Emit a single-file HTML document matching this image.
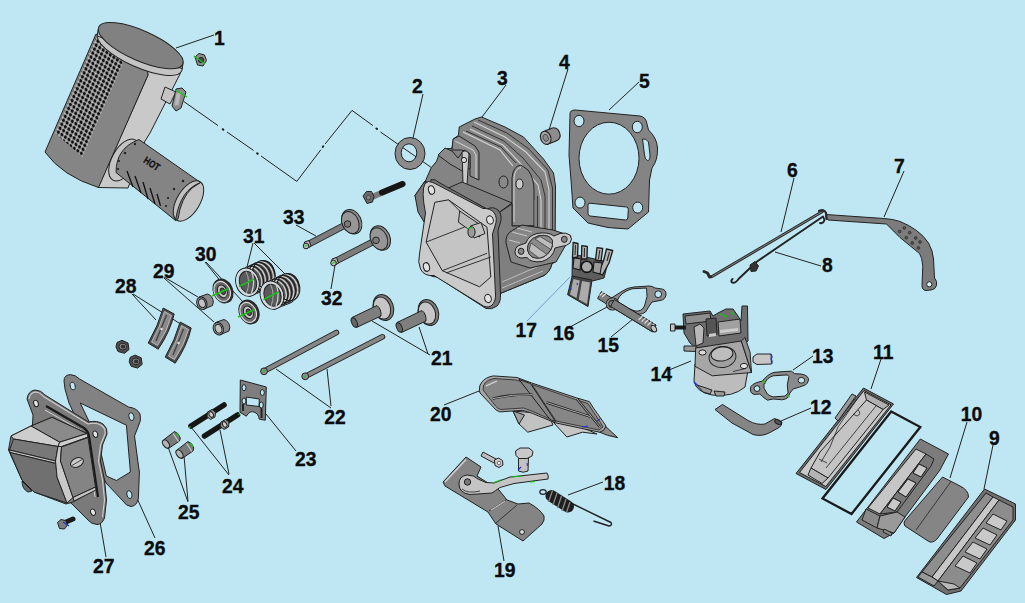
<!DOCTYPE html>
<html><head><meta charset="utf-8"><title>Cylinder head assembly</title>
<style>
html,body{margin:0;padding:0;background:#bee7f3;}
body{width:1025px;height:603px;overflow:hidden;position:relative;font-family:"Liberation Sans",sans-serif;}
svg{position:absolute;left:0;top:0;display:block}
.lb{font:bold 21px "Liberation Sans",sans-serif;fill:#0c0c0c;stroke:#0c0c0c;stroke-width:.35px;}
.ld{stroke:#222;stroke-width:1;fill:none}
.o{stroke:#222;stroke-width:1;stroke-linejoin:round}
</style></head><body>
<svg width="1025" height="603" viewBox="0 0 1025 603">
<rect width="1025" height="603" fill="#bee7f3"/>
<!--LEADERS-->
<g class="ld" id="leaders">
<path d="M214 35L176 48M423 94L413 138M506 85L482 117M568 69L549 130M639 82L609 110M794 178L781 232M904 171L884 217M821 266L775 252M813 356L793 370M881 359L871 389M811 408L781 421M967 422L950 478M993 445L984 489M669 370L691 361M611 337L633 319M570 327L607 307M430 355L372 321M428 354L419 327M444 405L479 391M331 408L276 369M331 406L327 369M331 289L335 265M296 225L316 236M253 243L247 267M254 243L285 274M205 262L222 283M206 262L244 303M164 277L198 297M164 278L214 322M132 294L156 320M133 294L179 323M296 451L266 414M229 475L191 427M229 474L220 430M188 502L167 444M188 501L184 456M155 538L136 496M106 557L100 522M603 482L568 495M504 561L498 526"/>
<path d="M527 321L570 277" stroke="#7a9ac8"/>
<path d="M183.800 101.500L218 125.600M227 132L253.600 150.500M261 156L296.800 181.400L320.900 149.700M325.200 143.900L352 110.400L372.900 125.600M380.500 132L431.300 167.500"/>
<path d="M222.700 129.200L223.300 129.600M257.100 153.300L257.700 153.700M322.800 147L323.200 146.400M376.400 128.500L377 128.900" stroke-width="2" stroke-linecap="round"/>
</g>
<!--PARTS-->
<g id="parts">
<!-- 01_muffler -->
<g id="muffler">
<defs>
<pattern id="perf" width="4.300" height="4.300" patternUnits="userSpaceOnUse" patternTransform="translate(97 38) matrix(0.82 0.57 -0.40 0.92 0 0)">
<rect width="4.300" height="4.300" fill="#acacac"/><circle cx="2.150" cy="2.150" r="1.650" fill="#111"/><circle cx="0.300" cy="0.300" r=".600" fill="#d8d8d8"/>
</pattern>
<clipPath id="perfclip"><path d="M96.500 36.500L125.500 57L82.500 157L55 133Z"/></clipPath>
</defs>
<!-- light side face -->
<path class="o" fill="#c9c9c9" d="M146 68L182 66L180 74L150 133L145 141L128 188L98 187.500L148 75Z"/>
<!-- dark front face -->
<path class="o" fill="#858585" d="M96 34L120 48L147 64L148 75L98.500 187.500Q62 176 45 152Z"/>
<rect x="40" y="20" width="120" height="170" fill="url(#perf)" clip-path="url(#perfclip)"/>
<!-- stub pipe + flange -->
<path class="o" fill="#c4c4c4" d="M165 87L176 92L170 104L161 99Z"/>
<path class="o" fill="#8c8c8c" stroke-width="1.600" d="M176 89L182 88L186 92L181 108L176 111L172 106Z"/><path d="M176.500 93L181 92L178.500 105L174.500 105.500Z" fill="#b8b8b8"/>
<path d="M175 90L187 97" stroke="#18c018" stroke-width="1.4" fill="none"/>
<!-- rim -->
<ellipse class="o" cx="139.700" cy="52.300" rx="46" ry="15" transform="rotate(23.8 139.700 52.300)" fill="#c4c4c4"/>
<path fill="#c4c4c4" stroke="#222" stroke-width="1" d="M98.200 29.300L183.200 62.100L182.200 68.700L97.200 35.900Z"/>
<ellipse class="o" cx="140.7" cy="45.7" rx="46" ry="15" transform="rotate(23.8 140.7 45.7)" fill="#818181"/>
<!-- collar -->
<ellipse class="o" cx="124" cy="160" rx="12" ry="23" transform="rotate(29 124 160)" fill="#c4c4c4"/>
<!-- exhaust cylinder -->
<path class="o" fill="#848484" d="M139 139.5L200.5 182.5Q183 196 175.5 220.5L116 172.5Q116 148 139 139.5Z"/>
<ellipse class="o" cx="188.5" cy="201" rx="11.5" ry="22.5" transform="rotate(31 188.5 201)" fill="#c2c2c2"/>
<path class="o" fill="#848484" d="M200.5 182.5Q180 190 175.5 220.5L178 219Q181 198 192 188Z"/>
<g stroke="#111" stroke-width="1.3" fill="none"><path d="M127 171L133 187M135 176L141 193M143 182L148 199M150 188L155 204M157 194L160.500 206"/></g>
<g fill="#222"><circle cx="135" cy="144" r="1.2"/><circle cx="125" cy="153" r="1.2"/><circle cx="119" cy="161" r="1.1"/><circle cx="118" cy="169" r="1.1"/><circle cx="183" cy="181" r="1.3"/><circle cx="174" cy="189" r="1.2"/><circle cx="168" cy="198" r="1.1"/><circle cx="166" cy="206" r="1.1"/></g>
<text transform="translate(142.800 162) rotate(33)" font-family="Liberation Sans, sans-serif" font-weight="bold" font-size="10" fill="#111" stroke="#111" stroke-width=".3" textLength="17" lengthAdjust="spacingAndGlyphs">HOT</text>
<!-- nut -->
<g><path class="o" fill="#8e8e8e" stroke-width="1.300" d="M195 57L199 53.500L204.500 55L206.500 60.500L203 66L197.500 65Z"/><circle cx="201" cy="60" r="2.600" fill="#4a4a4a" stroke="#1a1a1a" stroke-width=".9"/><path d="M194 56L205 64" stroke="#18c018" stroke-width="1.3"/></g>
</g>
<!-- 03_head -->
<g id="head">
<!-- washer 2 -->
<path class="o" fill="#8b8b8b" fill-rule="evenodd" d="M395 153.5a15 16 0 1 0 30 0a15 16 0 1 0 -30 0ZM401.200 152.800a7.800 9 0 1 0 15.600 0a7.800 9 0 1 0 -15.600 0Z"/>
<!-- dowel 4 -->
<g transform="translate(549.500 137) scale(1.130) translate(-549.500 -137) rotate(-22 548 137)"><rect class="o" x="543" y="131" width="16" height="12" rx="5" fill="#8d8d8d"/><ellipse class="o" cx="546" cy="137" rx="4.5" ry="6" fill="#a5a5a5"/><ellipse cx="546" cy="137" rx="2.3" ry="3.2" fill="#8a8a8a" stroke="#333" stroke-width=".6"/></g>
<!-- main silhouette -->
<path class="o" fill="#848484" d="M459.2 127L475 119L481.5 117L505 127L523.5 137L543.5 159L553.5 173L555.500 186L555 262L552 263.500Q550 272 544 275.500L499 294L497 232L495 212L425 181L415 195.5L419 209L425.900 179.800L431.200 167.800L436.600 161.200L439.200 153.900L445.200 153.200L446.500 148.600L451.800 148.600L453.800 138.600L458.500 135.300Z"/>
<path class="o" fill="#7a7a7a" d="M425 181L415 195.5L418 212L424 222L428 205Z"/>
<!-- fin light lines -->
<g fill="none" stroke="#d4d4d4" stroke-width="1.1">
<path d="M474 122L505 137L526 152L545 172L549 190L549 262"/>
<path d="M470 129L503 145L520 163L538 185L541 200L541 262"/>
<path d="M463 132L500 150L513 166"/>
<path d="M534 200L534 262"/>
</g>
<g fill="none" stroke="#2a2a2a" stroke-width=".9">
<path d="M478 120L507 133L529 149L548 170L552.5 188L552.5 262"/>
<path d="M472 126L504 141L523 158L541 180L545 196L545 262"/>
<path d="M466 131L501 147L516 163"/>
<path d="M537.5 196L537.5 262M530 200L530 262"/>
</g>
<!-- tower boss -->
<path class="o" fill="#868686" d="M512 226L512 178Q513 166 521 165L528 170Q534 178 534 190L534 226Z"/>
<path fill="none" stroke="#d4d4d4" stroke-width="1" d="M514 222L514 178Q515 168 521 167.5"/>
<ellipse class="o" cx="519.5" cy="184" rx="3.6" ry="5" fill="#c9c9c9"/>
<ellipse class="o" cx="503.5" cy="182" rx="4.5" ry="6" fill="#8a8a8a"/>
<!-- rocker ears -->
<path class="o" fill="#8a8a8a" d="M453 139L459 136L475 146L479 152L479 180L470 176L470 156L462 150L452 150Z"/>
<path fill="none" stroke="#d4d4d4" stroke-width="1" d="M455 141L473 150L476 155L476 178"/>
<path class="o" fill="#8a8a8a" d="M438 155L445 148L452 151L458 158L464 150L470 154L470 168L464 172L457 168L450 164Z"/>
<path class="o" fill="#c9c9c9" d="M462 152Q467 149 469 154L467 185L463 184Z"/>
<circle class="o" cx="464" cy="160" r="2.6" fill="#dedede"/>
<!-- top face of box below -->
<path class="o" fill="#808080" d="M446 189L462 182L512 203L497 214Z"/>
<!-- right side body -->
<path class="o" fill="#7f7f7f" d="M497 214L512 204L512 226L534 226L534 262L555 262L552 263.500Q550 272 544 275.500L499 294Z"/><path d="M502 282L546 263M502 288L543 271" stroke="#c4c4c4" stroke-width=".9" fill="none"/>
<!-- intake port -->
<path class="o" fill="#868686" d="M506 243Q505 234 513 230L522 225L553 230L571 236L556 262L530 268L511 262Z"/>
<path d="M512 232L527 236M517 228L532 232M509 240L520 243" stroke="#c8c8c8" stroke-width="1" fill="none"/>
<path class="o" fill="#c8c8c8" fill-rule="evenodd" d="M515 251.500Q515 247 519 245.500L526 243Q528 236 537 233.500Q548 231.500 554 236L560 233.500Q566 232 570 235Q573 239 570 243Q567 246 561 246.500L555 248Q553 258 542 261.500Q531 263 527 257.500L521 258Q515 257 515 251.500Z
M518.200 251.300a2.900 3.100 0 1 0 5.800 0a2.900 3.100 0 1 0 -5.800 0Z
M561.400 239.300a2.900 3.100 0 1 0 5.800 0a2.900 3.100 0 1 0 -5.800 0Z
M527.500 250Q527 240 538 236Q549 233.500 552.500 240.500Q554 251 542.500 257.500Q530 260.500 527.500 250Z"/>
<path fill="#8a8a8a" stroke="#222" stroke-width=".8" d="M527.500 250Q527 240 538 236Q549 233.500 552.500 240.500Q554 251 542.500 257.500Q530 260.500 527.500 250Z"/>
<path fill="#bcbcbc" stroke="#222" stroke-width=".6" d="M531 243L547 254.500Q543 257.500 539 258L529 250.500ZM535 239L551 249.500L552.500 244L540 236.500Z"/>
<!-- front flange -->
<path class="o" fill="#767676" d="M431 179.500Q436 179 439 182.500L487 209Q493 206 498 210Q503 215 500 224L498 230L500.500 294Q501 302 497 306Q492 310 486 308.500L437 277Q428 277 425 270Z"/>
<path class="o" fill="#cacaca" d="M425 183.500Q428 180 433 182.500L483 208.500Q490 208 494 212.500Q498 218 495 226L492.500 234L495.500 294Q496 302 491 306Q486 308.500 481 304.500L434 275.500Q424 276.500 420.500 269Q417.500 262 419.500 254L425.500 213Q421 191 425 183.500Z"/>
<!-- inner opening -->
<path class="o" fill="#c4c4c4" d="M434.800 202.300L448.500 199.800L487 227.200L490.800 277L479.600 286.800L442.300 270.700L426.100 242.100Z"/>
<path class="o" fill="#bababa" d="M459.700 211L482 226L479.600 237L458.400 222.200Z"/>
<path fill="none" stroke="#222" stroke-width=".9" d="M426.100 242.100L464.700 227M442.300 270.700L487 253.300M446 273L490.800 257M448.500 199.800L459.700 211"/>
<path class="o" fill="#c0c0c0" d="M470.500 226L481 222.500L485 233.500L474 238Z"/>
<ellipse class="o" cx="471.500" cy="232" rx="3.600" ry="5.400" fill="#9a9a9a"/>
<path d="M467 229L473 227" stroke="#18c018" stroke-width="1.200"/>
<!-- bolt holes -->
<g class="o" fill="#e2e2e2"><ellipse cx="431.5" cy="190" rx="3" ry="4.3" transform="rotate(-15 431.5 190)"/><ellipse cx="490" cy="220" rx="3.3" ry="4.2" transform="rotate(-15 490 220)"/><ellipse cx="426.5" cy="267" rx="3" ry="4.4" transform="rotate(-15 426.5 267)"/><ellipse cx="488" cy="298.5" rx="3.3" ry="4.2" transform="rotate(-15 488 298.5)"/></g>
</g>
<!-- 05_gasket -->
<g id="gasket5">
<path class="o" stroke-width="1.400" fill="#848484" fill-rule="evenodd" d="M570 114Q570 110 575 110L640 116Q646 117 647 124L648.5 130Q657 138 657.5 148Q658 160 652 168L649.5 180L648.5 212L628 229Q608 229 588 223L573 208L571 180L569 155Z
M579 158.2a30 36 0 1 0 60 0a30 36 0 1 0 -60 0Z
M574 121a5 5.7 0 1 0 10 0a5 5.7 0 1 0 -10 0Z
M632.3 127a5 5.7 0 1 0 10 0a5 5.7 0 1 0 -10 0Z
M575 202.6a5 5.5 0 1 0 10 0a5 5.5 0 1 0 -10 0Z
M632.7 207.6a5 5.5 0 1 0 10 0a5 5.5 0 1 0 -10 0Z
M642.5 139Q646 138 648.5 142L650 155Q650 161 647.5 160.5Q645 160 644.5 155Z
M588 205Q588 203 590 203.2L626.5 207Q628.5 207.4 628.3 209.5L627.8 218Q627.6 220.2 625.5 220L590 216Q588 215.8 588 213.5Z"/>
</g>
<!-- 06_linkage -->
<g id="linkage">
<!-- arm 7 -->
<path class="o" fill="#7c7c7c" d="M826 214.5L884 218.5Q893 219 900 221.5Q909 225 916.5 230.5Q924 236 928.5 243Q933 251 933.5 259L934.5 278Q937.5 281 936.5 285.5Q935.5 289.5 931 290L925 290.5Q921.5 289 922 285.5L922.8 266Q922 257 919.5 253.5L900 237.5L886.5 224L828 220Q825 217 826 214.5Z"/>
<circle class="o" cx="929.3" cy="284.3" r="2.6" fill="#e4f3f8"/>
<g fill="#555" stroke="#222" stroke-width=".6"><circle cx="904.3" cy="228" r="1.4"/><circle cx="899.7" cy="231.5" r="1.4"/><circle cx="909.7" cy="232.7" r="1.4"/><circle cx="906.3" cy="237.7" r="1.4"/><circle cx="915.7" cy="238" r="1.4"/><circle cx="912.3" cy="243" r="1.4"/><circle cx="920" cy="242" r="1.4"/><circle cx="918.4" cy="248" r="1.4"/></g>
<!-- rod 6 -->
<path d="M822.5 211.5L712 276.5L709.5 277L707.5 273L704 271.5" fill="none" stroke="#2a2a2a" stroke-width="2.900" stroke-linecap="round" stroke-linejoin="round"/>
<path d="M822.5 211.5L712 276.5" fill="none" stroke="#999" stroke-width=".8"/>
<path d="M819 211Q824 208.500 826 213L826.5 219" fill="none" stroke="#2a2a2a" stroke-width="2.2" stroke-linecap="round"/>
<!-- spring 8 -->
<path d="M820 223Q823 224 824.500 220L823 216.500L757 261.500L739 278.500Q735 284 732 282.500Q730.500 281 732.500 279" fill="none" stroke="#222" stroke-width="1.900" stroke-linecap="round" stroke-linejoin="round"/>
<path class="o" fill="#333" d="M750 265L755 261.500L758.500 266L756 271L751 271.500Z"/>
</g>
<!-- 09_airfilter -->
<g id="airfilter">
<!-- case 11 -->
<path class="o" fill="#6c6c6c" stroke="#111" stroke-width="1.600" d="M863.500 388L893.500 404L826 489.500L796 473.500Z"/>
<path class="o" fill="#c9c9c9" d="M864 390.500L891 404.800L825.800 486.500L799.500 472.500Z"/>
<path class="o" fill="#b0b0b0" d="M864.500 392L889 405L883 409.500L866.500 400Z"/>
<path class="o" fill="#c4c4c4" d="M866.500 400L883 409.500L828 478L811 468L820 452Z"/>
<path class="o" fill="#b4b4b4" d="M811 468L828 478L822 483.500L808 475Z"/>
<path d="M857 399L838 427L830 447L821 462M876 406L826 468M819 459L827 463" fill="none" stroke="#222" stroke-width=".8"/>
<path d="M858 410Q862 414 857 416L853 414" fill="none" stroke="#222" stroke-width=".8"/>
<path class="o" fill="#9a9a9a" d="M852 394L856 396L838 421L835 418Z"/>
<!-- frame gasket -->
<path d="M891.200 411.500L920.300 427L851.500 514L822.500 498.500Z" fill="none" stroke="#1a1a1a" stroke-width="2.300" stroke-linejoin="miter"/>
<!-- holder -->
<path class="o" fill="#7c7c7c" d="M920.300 439L948.500 454L942 466L940 470L905 517L894 533L884 538.500L856.500 522Z"/>
<path class="o" fill="#c6c6c6" d="M916 449L926 454L880 514L868 508Z"/>
<path class="o" fill="#787878" d="M926 454L934 459L931 466L897 512L880 514Z"/>
<path class="o" fill="#8a8a8a" d="M919 464L927 468L921 477L913 473ZM908 479L916 483L906 497L898 492ZM893 498L901 502L895 511L887 507Z" />
<path class="o" fill="#c9c9c9" d="M919 464L927 468L921 477L913 473ZM908 479L916 483L906 497L898 492ZM893 498L901 502L895 511L887 507Z" transform="translate(0 0)"/>
<path class="o" fill="#8a8a8a" d="M866 509L880 516L877 528L862 520Z"/>
<path class="o" fill="#999" d="M880 516L897 512L905 517L894 533L877 528Z"/>
<path class="o" fill="#8a8a8a" d="M884 529L892 533L891 536L883 532Z"/>
<!-- foam 10 -->
<path class="o" fill="#858585" d="M942.500 477L960 486Q968.500 490 968.500 497L937 539Q932 544 928 541L905 526Q903 523 905 520.500Z"/>
<path d="M951 481.500L916 530" stroke="#222" stroke-width=".8" fill="none"/>
<!-- cover 9 -->
<path class="o" fill="#707070" stroke-width="1.300" d="M984.500 489L1015.500 504L1015.500 520L961 591L946.500 594.500L916.500 577.500Z"/>
<path class="o" fill="#8e8e8e" d="M986 493L993 497L932 577L922 572Z"/>
<path class="o" fill="#c8c8c8" d="M993 497L999 500L938 581L932 577Z"/>
<path class="o" fill="#8c8c8c" d="M999 500L1013 507L1013 520L960 588L948 590L938 581Z"/>
<path class="o" fill="#c9c9c9" d="M993 514L1007 521L1001 530L986 523ZM983 528L997 535L990 545L975 538ZM973 542L987 549L980 559L965 552ZM963 556L977 563L970 573L955 566Z"/>
<path class="o" fill="#b8b8b8" d="M938 581L948 590L960 588L954 584Z"/>
<path class="o" fill="#9a9a9a" d="M922 572L932 577L938 581L934 586L918 577Z"/>
</g>
<!-- 13_gasket_hose -->
<g id="p12_13">
<path class="o" fill="#8a8a8a" fill-rule="evenodd" d="M750.400 389Q750.500 386 752.400 384.900Q755 383 758.200 382.200L762 381.100L767.400 375.800Q770.500 373.200 774 372.400L783.100 371.600L791.400 371.200L794.700 373.700L801.400 374.100Q805 374.500 807.200 376.600Q809 378.500 808.400 380.700Q807.500 383.500 805.500 384.900L799.700 387L793.100 389L789.800 393.200L788.100 397.300Q786 399.300 782.300 399.800L773.200 399L767.400 400.200L762.400 396.500L759.900 394L754.100 394.400Q751.500 393.500 750.800 391.900Z
M764 384L767.400 379.100Q770 376.800 773.200 375.800L787.300 374.900L788.900 376.600L787.300 384.900L788.100 393.200L784.800 396.100L773.200 396.900Q769.500 396 767.400 394L764 388.200Z
M754.100 388.600a2.900 2.900 0 1 0 5.800 0a2.900 2.900 0 1 0 -5.800 0Z
M798.100 380.300a3.300 2.900 0 1 0 6.600 0a3.300 2.900 0 1 0 -6.600 0Z"/>
<path d="M762.500 380.500L766 383.500M787 395L789.500 397" stroke="#18c018" stroke-width="1.300"/>
<path class="o" fill="#858585" d="M715 409.500L722.500 404.500L748 420.500Q757 425.500 765 424L774.500 418.500L782 422Q782 426 779 427.500L770 432.500Q762 437 753 434.500L732 423Z"/>
<ellipse class="o" cx="778" cy="422" rx="2" ry="3.600" transform="rotate(-60 778 422)" fill="#555"/>
</g>
<!-- 14_carb -->
<g id="carb">
<!-- bowl -->
<path class="o" fill="#bcbcbc" d="M695 364L694 381Q696 392 712 395Q733 397.500 745 387L748 370Z"/>
<path class="o" fill="#9a9a9a" d="M697 385L703 392L710 394L712 390ZM714 391L716 396L724 396L725 392Z"/>
<path d="M694 382L698 386" stroke="#2030d0" stroke-width="1.500"/>
<!-- right pipe -->
<path class="o" fill="#c6c6c6" d="M753 357L757 354L771 354L771.500 364L757 364.500L753 362Z"/>
<path d="M771 354Q773 357 771 359Q773 361.500 771.500 364" stroke="#2030d0" stroke-width="1.200" fill="none"/>
<!-- top block -->
<path class="o" fill="#6e6e6e" d="M683 314L710 311L713 316L718 313L726 309L733 309L738 316L741 321L742 306L747.500 306L748 341L742 345L696 348L690 343L684 333Z"/>
<path class="o" fill="#8e8e8e" d="M685 316L710 313L711 321L686 324Z"/>
<path class="o" fill="#a0a0a0" d="M718 322L740 319L741 333L719 336Z"/>
<path class="o" fill="#555" d="M706 319L716 318L717 334L707 336Z"/>
<path class="o" fill="#b8b8b8" d="M694 327L700 324L704 328L703 343L696 346Z"/>
<path d="M720 314L727 317M731 311L734 316" stroke="#18c018" stroke-width="1.200"/>
<path fill="#ccc" d="M720 330L738 328L738 331L720 333ZM709 334L716 333L716 336L709 337Z"/>
<!-- screw left -->
<path class="o" fill="#c6c6c6" d="M670.500 324L675 324L675 331L670.500 331Z"/>
<path d="M675 327.500L686 327.500" stroke="#1a1a1a" stroke-width="4"/>
<!-- tab -->
<path class="o" fill="#9a9a9a" d="M684 346L696 346L696 351.500L684 351Z"/>
<!-- flange -->
<path class="o" fill="#a6a6a6" d="M695.700 348L741.300 341L751.500 372.500L712.300 375.800L695 366.300Z"/>
<path class="o" fill="#8e8e8e" d="M741.300 341L745 337.500L750 352L751.500 372.500Z"/>
<ellipse class="o" cx="722.500" cy="357" rx="13.500" ry="10.500" fill="#a0a0a0" transform="rotate(-8 722.500 357)"/>
<ellipse class="o" cx="722" cy="354" rx="11" ry="7" fill="#bdbdbd" transform="rotate(-8 722 354)"/>
<ellipse class="o" cx="702.500" cy="352.500" rx="3.600" ry="2.600" fill="#d8d8d8"/>
<ellipse class="o" cx="744" cy="366" rx="3.600" ry="2.600" fill="#e6e6e6"/>
<path d="M733 371.500L746 368.500" stroke="#222" stroke-width=".8"/>
</g>
<!-- 15_stud_gasket -->
<g id="p15_16_17">
<!-- gasket 16 -->
<path class="o" fill="#8c8c8c" fill-rule="evenodd" d="M607.500 303Q608 299 613 297L621 292Q627 287.500 634 287L649 286Q652 286 655 288L662 289Q666.500 290 666 295Q665 300 660 300.500L652 302Q649 306 645.500 312Q640 316 632 313L618 309Q609 310 607.500 303Z
M617.500 300Q621 292 632 288.800L646.500 288Q648.500 296 644.500 306Q641.500 312 635 311L622 306Q617 304.500 617.500 300Z
M654.800 294.200a3.400 3.400 0 1 0 6.800 0a3.400 3.400 0 1 0 -6.800 0Z"/>
<!-- stud 15 -->
<path class="o" fill="#7d7d7d" d="M601.300 291.600L656 325L652.300 331.800L597.600 298.500Z"/>
<ellipse cx="612.600" cy="304" rx="5.200" ry="4.800" fill="none" stroke="#222" stroke-width="3.400"/><ellipse cx="612.600" cy="304" rx="5.200" ry="4.800" fill="none" stroke="#8c8c8c" stroke-width="1.800"/>
<path class="o" fill="#7d7d7d" d="M614.300 299.500L656 325L652.300 331.800L610.600 306.400Z"/>
<path d="M599.500 295.500L603.500 292M602 297L606 293.500M638.500 320L642.500 316M641.500 321.800L645.500 317.800M644.500 323.500L648.500 319.500M647.500 325.500L651.500 321.500M650.500 327.300L654.500 323.300" stroke="#ddd" stroke-width="1.1" fill="none"/>
<ellipse class="o" cx="653.800" cy="328.600" rx="2.400" ry="3.600" transform="rotate(-30 653.800 328.600)" fill="#c4c4c4"/>
<!-- bracket 17 -->
<path class="o" fill="#5e5e5e" stroke-width="1.500" d="M572.500 254L608 262L604 278L592.500 281L572 276.500Z"/>
<g fill="#b2b2b2" stroke="#1a1a1a" stroke-width="1.300" stroke-linejoin="round">
<path d="M573.200 242.500L578 243.500L577.500 257L572.500 258Z"/>
<path d="M581.800 245.600L587.300 246.500L587 259L581.500 259Z"/>
<path d="M597 247.600L602.700 248.500L601 261L595.500 260Z"/>
<path d="M606.500 249L612.700 250.500L609 263L602.500 275L598 273L603.500 261Z"/>
</g>
<path d="M575.500 245L575 255M584.500 248L584.300 257M599.800 250L598.500 259M609.500 252L607 261" stroke="#2a2a2a" stroke-width="1.100" fill="none"/>
<path fill="#9c9c9c" stroke="#1a1a1a" stroke-width="1.100" d="M574 258L581 259L580 270L573 268ZM594 262L602 263L600 274L593 272Z"/>
<path class="o" fill="#444" stroke-width="1.500" d="M572.200 276L592 280L588 306.600L567.600 294.700Z"/>
<path fill="#ababab" d="M573.500 279L579.800 280.500L576.500 298L570 294.500ZM582 281L590 282.500L587 304L578.800 299.500Z"/>
<circle cx="586.800" cy="266.800" r="5.600" fill="#a9a9a9" stroke="#111" stroke-width="1.600"/>
<path d="M570 288L571.500 289.500M577 283L577.500 285" stroke="#2030d0" stroke-width="1.100"/>
</g>
<!-- 19_bracket -->
<g id="bracket19">
<path class="o" fill="#848484" d="M443 482L466 457L481 467L477 476L499 490L507 500L518 504L529 503Q540 509 544 516Q545 520 542 524L523 541L496 524L488 512L445 486Z"/>
<path d="M445 482L466 459.500" stroke="#cfcfcf" stroke-width="1.600" fill="none"/>
<path d="M489 511L506 500M496 523L517 505" stroke="#222" stroke-width=".8" fill="none"/>
<path d="M491 510L505 501" stroke="#cfcfcf" stroke-width="1" fill="none"/>
<circle class="o" cx="522" cy="532" r="2.400" fill="#e2e2e2"/>
<!-- lever -->
<path class="o" fill="#c4c4c4" d="M459 484Q459 476 467 475Q474 475 478 479Q486 484 494 483L510 477L547 473Q549 476 548 479L514 483.500L500 487.500Q495 491 492 493L470 494.500Q459 493 459 484Z"/>
<path d="M462 489Q468 494 480 491" fill="none" stroke="#222" stroke-width=".8"/>
<circle class="o" cx="467.500" cy="482" r="3.200" fill="#777"/>
<path d="M494 482.500L502 479.500M512 477L522 476M530 482L535 481.500" stroke="#18c018" stroke-width="1.200"/>
<!-- small bolt -->
<path class="o" fill="#bdbdbd" d="M483 452L497 459.500L495 463.500L481 456Z"/>
<path class="o" fill="#d0d0d0" d="M494.500 460L498.500 458L502.500 460.500L503 465L499 467.500L495 465.500Z"/>
<circle cx="499" cy="463" r="1.800" fill="#eee" stroke="#222" stroke-width=".6"/>
<!-- big bolt -->
<path class="o" fill="#c2c2c2" d="M518.500 457L528.500 457L528 471Q523 473.500 518.500 471Z"/>
<path class="o" fill="#c9c9c9" d="M515.500 451L520 448L529 448L533 451.500L532 456L527 458.500L519 458.500L516 455.500Z"/>
<path d="M518 470L521 467M527 463L527.500 466" stroke="#2030d0" stroke-width="1.100"/>
<!-- spring 18 -->
<ellipse cx="543" cy="492" rx="3.200" ry="2.400" fill="none" stroke="#222" stroke-width="1.200"/>
<path d="M551.500 496L568 506.500" stroke="#1e1e1e" stroke-width="12" stroke-linecap="round"/>
<path d="M552.500 490.500L548.500 502M557 493L553 505M561.500 496L557.500 508M566 499L562 511M570 502L566.500 512.500" stroke="#8a8a8a" stroke-width="1.300" fill="none"/>
<path d="M572 503.500L611 522.500Q612.500 525.500 609 526L593.500 521" fill="none" stroke="#222" stroke-width="1.400" stroke-linejoin="round"/>
</g>
<!-- 20_shroud -->
<g id="shroud">
<path class="o" fill="#c2c2c2" d="M513 411L519 424L527.800 432.200L553 425L548 414Z"/>
<path class="o" fill="#a2a2a2" d="M513 411L519 424L524.500 415Z"/>
<path class="o" fill="#c6c6c6" d="M553 422L566.900 437L582.500 432.200L597 434L575 424Z"/>
<path class="o" fill="#8c8c8c" d="M590 428L603 424L617.700 437.700L607.500 435.300L599.700 432.200Z"/>
<path class="o" fill="#a6a6a6" stroke-width="1.400" d="M479.400 390.800Q479 385 481.700 382.200Q486 377 493.400 375.900L516.900 377.500L531.700 383L576.300 397.800L589.500 401.700L593.400 408L602.800 421.300L606 426L604 430L599.700 432.200L555.200 422.800L532.500 413.400L523 410.300L499.700 411.900Q495 410 493.400 407.200L480 393Z"/>
<path fill="#868686" stroke="#222" stroke-width=".8" d="M483 390Q483 385 485 383Q488 379.500 494 378.500L516 380L524 382.500L540 404L551 419.500L534 412L523.500 408L500.500 409.500Q497 408 495.500 406Z"/>
<path fill="#868686" stroke="#222" stroke-width=".8" d="M532 384.500L575.500 399.500L588 403.500L591.500 409L600.500 422.500L603 427L599 430L556 421Z"/>
<path fill="#868686" stroke="#1e1e1e" stroke-width="1" d="M519 379.500L530.500 383.500L555.500 421.500L550 419.500Z"/>
<g fill="none" stroke="#1e1e1e" stroke-width="2.400">
<path d="M492.700 398.600Q512 394 532.500 394.700"/>
<path d="M546.600 402.500L590.300 416.600"/>
<path d="M577 399L600 427"/>
</g>
<g fill="none" stroke="#bdbdbd" stroke-width=".9">
<path d="M492.700 398.600Q512 394 532.500 394.700"/>
<path d="M546.600 402.500L590.300 416.600"/>
<path d="M577 399L600 427"/>
</g>
<path d="M486 386L497 381" stroke="#ddd" stroke-width="1.200" fill="none"/>
<path d="M597 421L600 419M582 427L588 426" stroke="#2030d0" stroke-width="1.100"/>
</g>
<!-- 23_rocker -->
<g id="rocker">
<!-- plate 23 -->
<path class="o" fill="#7e7e7e" fill-rule="evenodd" d="M240.300 380L266.300 387L265.300 420.200L259.300 419.200Q258 413 254.300 412.200Q250 410 246.300 416.200L240 412.200Z
M246.300 397L259.300 399L259 406.500L246.300 405Z
M242 387.700a2 3 0 1 0 4 0a2 3 0 1 0 -4 0Z
M260.300 392.500a2 3 0 1 0 4 0a2 3 0 1 0 -4 0Z
M242 401a2 3 0 1 0 4 0a2 3 0 1 0 -4 0Z
M259.300 405a2 3 0 1 0 4 0a2 3 0 1 0 -4 0Z"/>
<path d="M243 404L243 411M261.500 408L261.500 418" stroke="#222" stroke-width="2"/>
<!-- studs 24 -->
<g id="stud">
<path d="M191 426L224 405" stroke="#161616" stroke-width="5.600" stroke-linecap="round"/>
<path class="o" fill="#9a9a9a" d="M207.500 412L212 409.500L215.500 412L215 417L210.500 419.500L207 416.500Z"/>
<ellipse class="o" cx="211.200" cy="414.500" rx="2" ry="3" transform="rotate(-30 211.200 414.500)" fill="#d0d0d0"/>
</g>
<g transform="translate(13.500 10)">
<path d="M191 426L224 405" stroke="#161616" stroke-width="5.600" stroke-linecap="round"/>
<path class="o" fill="#9a9a9a" d="M207.500 412L212 409.500L215.500 412L215 417L210.500 419.500L207 416.500Z"/>
<ellipse class="o" cx="211.200" cy="414.500" rx="2" ry="3" transform="rotate(-30 211.200 414.500)" fill="#d0d0d0"/>
</g>
<path d="M189 428L190.500 426.500M238.500 415L240 413" stroke="#18c018" stroke-width="1.200"/>
<!-- dowels 25 -->
<g id="dow">
<path class="o" fill="#7a7a7a" d="M163.500 440L174.500 431.500Q179 433 180.300 438L179.500 441L168.500 448.500Q163 447 163.500 440Z"/>
<ellipse class="o" cx="166" cy="444" rx="2.800" ry="4.600" transform="rotate(-35 166 444)" fill="#b5b5b5"/>
<path d="M173 433.500L178.500 441.500" stroke="#ccc" stroke-width="1.100"/>
<path d="M176.500 433L179.500 436.500" stroke="#18c018" stroke-width="1.200"/>
</g>
<g transform="translate(13.500 10)">
<path class="o" fill="#7a7a7a" d="M163.500 440L174.500 431.500Q179 433 180.300 438L179.500 441L168.500 448.500Q163 447 163.500 440Z"/>
<ellipse class="o" cx="166" cy="444" rx="2.800" ry="4.600" transform="rotate(-35 166 444)" fill="#b5b5b5"/>
<path d="M173 433.500L178.500 441.500" stroke="#ccc" stroke-width="1.100"/>
<path d="M176.500 433L179.500 436.500" stroke="#18c018" stroke-width="1.200"/>
</g>
</g>
<!-- 26_cover -->
<g id="cover">
<!-- gasket 26 -->
<path class="o" fill="#828282" fill-rule="evenodd" d="M64 381Q64 375 70.200 374.600Q76 375 79.500 379L128.500 407Q137 408 140 414Q142 420 138 427L134.500 436L138.500 466L139.400 472L138.400 498Q137 506 131 506.500Q126 506 123 501L106 483L100 470L69 403L65 389Z
M80.200 403L126.400 425.200L130.400 472L116.400 480.500L106.300 476L98 440Z
M70.300 386a2.400 3.200 -20 1 0 4.800 0a2.400 3.200 -20 1 0 -4.800 0Z
M129 416.600a2.400 3.200 -20 1 0 4.800 0a2.400 3.200 -20 1 0 -4.800 0Z
M127 494.600a2.400 3.200 -20 1 0 4.800 0a2.400 3.200 -20 1 0 -4.800 0Z"/>
<!-- cover flange -->
<path class="o" fill="#7a7a7a" d="M27 399Q28 391 35 390Q41 390 45 395L88.500 422Q97 420 103 424Q108 428 107 434L102.500 445L100.500 461L104.500 480L106.500 500L104.500 518Q102 524.500 97 524.500Q91 524 88 520L72 504L30 470L33 415Z"/>
<path fill="none" stroke="#cfcfcf" stroke-width="1.100" d="M29 399Q30 393 35 392Q40 392 43.500 396.500L88 424Q96 422 101.500 425.500Q106 429 105 434L100.500 445L98.500 461L102.500 480L104.500 500L102.500 517"/>
<path fill="none" stroke="#1a1a1a" stroke-width="2.200" d="M46 406L84 428Q88 431 89 436L98 497"/>
<path fill="none" stroke="#cfcfcf" stroke-width="1" d="M45 410L82 431Q85 433 86 438L95 497"/>
<g class="o" fill="#e6e6e6"><ellipse cx="36" cy="403.500" rx="2.300" ry="3.300" transform="rotate(-20 36 403.500)"/><ellipse cx="95.300" cy="434.200" rx="2.300" ry="3.300" transform="rotate(-20 95.300 434.200)"/><ellipse cx="93" cy="512.200" rx="2.300" ry="3.300" transform="rotate(-20 93 512.200)"/></g>
<!-- dome -->
<path class="o" fill="#7c7c7c" d="M11 436L31 426L52 417.300L87 433.500L89 446L96 489L73 502L66 504L34 492L22 480L8.500 450Z"/>
<path class="o" fill="#8a8a8a" d="M31 426L52 417.300L87 433.500L59.700 442.200Z"/>
<path class="o" fill="#cdcdcd" d="M11 436L31 426L59.700 442.200L58 446.500L13.500 439Z"/>
<path class="o" fill="#787878" d="M13.500 439L58 446.500L55.500 461L9.500 450Z"/>
<path class="o" fill="#c4c4c4" d="M9.500 450L55.500 461L56 463.500L10 452.500Z"/>
<path class="o" fill="#707070" d="M10 452.500L56 463.500L57 477L67 503L34 492L22 480Z"/>
<path class="o" fill="#cdcdcd" d="M59.700 442.200L87 433.500L88 437L61.500 446.500L58 446.500Z"/>
<path class="o" fill="#c9c9c9" d="M58 446.500L61.500 446.500L60.500 461L73 497.500L67 503L57 477L55.500 461Z"/>
<path class="o" fill="#848484" d="M61.500 447L88 437.500L95.500 487L73 497.500L60.500 461Z"/>
<path class="o" fill="#c4c4c4" d="M73 497.500L95.500 487L96 490L74 501Z"/>
<ellipse class="o" cx="77" cy="462.500" rx="6.800" ry="4.400" transform="rotate(-25 77 462.500)" fill="#c9c9c9"/>
<path d="M72 465.500L82 459.500" stroke="#222" stroke-width=".8"/>
<path class="o" fill="#6a6a6a" d="M22 481L32 491L28 492Q22 489 22 481Z"/>
<!-- small bolt -->
<path d="M66 522L73 519" stroke="#1c1c1c" stroke-width="5" stroke-linecap="round"/>
<path class="o" fill="#7e7e7e" d="M57.500 522.500L61 519.500L65.500 520.500L67.500 525L64.500 529L59.500 528.500Z"/>
<path d="M63 522L69 526" stroke="#2030d0" stroke-width="1.100"/>
</g>
<!-- 28_springs -->
<g id="springs">
<!-- springs 31 -->
<g id="spr">
<path class="o" fill="#555" d="M247.400 268.200L262 260.500Q273 260 274.500 273Q274 285 267 289.500L249 296.500Z"/>
<g fill="none" stroke="#d2d2d2" stroke-width="1.200">
<ellipse cx="262" cy="275" rx="11" ry="13.800" transform="rotate(-18 262 275)"/>
<ellipse cx="258" cy="276.800" rx="11" ry="13.800" transform="rotate(-18 258 276.800)"/>
<ellipse cx="254" cy="278.600" rx="11" ry="13.800" transform="rotate(-18 254 278.600)"/>
<ellipse cx="250.500" cy="280.400" rx="11" ry="13.800" transform="rotate(-18 250.500 280.400)"/>
</g>
<g fill="none" stroke="#1c1c1c" stroke-width="1.100">
<ellipse cx="264" cy="274.200" rx="11" ry="13.800" transform="rotate(-18 264 274.200)"/>
<ellipse cx="260" cy="276" rx="11" ry="13.800" transform="rotate(-18 260 276)"/>
<ellipse cx="256" cy="277.800" rx="11" ry="13.800" transform="rotate(-18 256 277.800)"/>
<ellipse cx="252.200" cy="279.600" rx="11" ry="13.800" transform="rotate(-18 252.200 279.600)"/>
</g>
<ellipse cx="247.400" cy="282.200" rx="11.500" ry="14.300" transform="rotate(-18 247.400 282.200)" fill="#bee7f3" stroke="#222" stroke-width="1"/>
<ellipse cx="247.400" cy="282.200" rx="10" ry="12.800" transform="rotate(-18 247.400 282.200)" fill="none" stroke="#d8d8d8" stroke-width="1.800"/>
<ellipse cx="248" cy="282.200" rx="8.400" ry="11.200" transform="rotate(-18 248 282.200)" fill="#5a5a5a" stroke="#222" stroke-width="1"/>
<path d="M251 270.500Q256 281 251.500 293" fill="none" stroke="#d2d2d2" stroke-width="1.200"/>
<path d="M246 271.500Q251 282 246.500 293" fill="none" stroke="#aaa" stroke-width="1"/>
<path d="M239 286.500L254 279" stroke="#18c018" stroke-width="1.400"/>
</g>
<g transform="translate(24.500 13)">
<path class="o" fill="#555" d="M247.400 268.200L262 260.500Q273 260 274.500 273Q274 285 267 289.500L249 296.500Z"/>
<g fill="none" stroke="#d2d2d2" stroke-width="1.200">
<ellipse cx="262" cy="275" rx="11" ry="13.800" transform="rotate(-18 262 275)"/>
<ellipse cx="258" cy="276.800" rx="11" ry="13.800" transform="rotate(-18 258 276.800)"/>
<ellipse cx="254" cy="278.600" rx="11" ry="13.800" transform="rotate(-18 254 278.600)"/>
<ellipse cx="250.500" cy="280.400" rx="11" ry="13.800" transform="rotate(-18 250.500 280.400)"/>
</g>
<g fill="none" stroke="#1c1c1c" stroke-width="1.100">
<ellipse cx="264" cy="274.200" rx="11" ry="13.800" transform="rotate(-18 264 274.200)"/>
<ellipse cx="260" cy="276" rx="11" ry="13.800" transform="rotate(-18 260 276)"/>
<ellipse cx="256" cy="277.800" rx="11" ry="13.800" transform="rotate(-18 256 277.800)"/>
<ellipse cx="252.200" cy="279.600" rx="11" ry="13.800" transform="rotate(-18 252.200 279.600)"/>
</g>
<ellipse cx="247.400" cy="282.200" rx="11.500" ry="14.300" transform="rotate(-18 247.400 282.200)" fill="#bee7f3" stroke="#222" stroke-width="1"/>
<ellipse cx="247.400" cy="282.200" rx="10" ry="12.800" transform="rotate(-18 247.400 282.200)" fill="none" stroke="#d8d8d8" stroke-width="1.800"/>
<ellipse cx="248" cy="282.200" rx="8.400" ry="11.200" transform="rotate(-18 248 282.200)" fill="#5a5a5a" stroke="#222" stroke-width="1"/>
<path d="M251 270.500Q256 281 251.500 293" fill="none" stroke="#d2d2d2" stroke-width="1.200"/>
<path d="M246 271.500Q251 282 246.500 293" fill="none" stroke="#aaa" stroke-width="1"/>
<path d="M239 286.500L254 279" stroke="#18c018" stroke-width="1.400"/>
</g>
<!-- retainers 30 -->
<g id="ret">
<ellipse class="o" cx="223" cy="291" rx="9.600" ry="12.300" transform="rotate(-25 223 291)" fill="#2e2e2e"/>
<ellipse cx="222.200" cy="291.400" rx="7.800" ry="10.400" transform="rotate(-25 222.200 291.400)" fill="#6a6a6a" stroke="#ddd" stroke-width="1.100"/>
<ellipse class="o" cx="222.400" cy="291.400" rx="4.600" ry="6.600" transform="rotate(-25 222.400 291.400)" fill="#c6c6c6"/>
<ellipse class="o" cx="222.800" cy="291.200" rx="2.200" ry="3.400" transform="rotate(-25 222.800 291.200)" fill="#555"/>
<path d="M212 296L228.500 288.500" stroke="#18c018" stroke-width="1.400"/>
</g>
<g transform="translate(26 21)">
<ellipse class="o" cx="223" cy="291" rx="9.600" ry="12.300" transform="rotate(-25 223 291)" fill="#2e2e2e"/>
<ellipse cx="222.200" cy="291.400" rx="7.800" ry="10.400" transform="rotate(-25 222.200 291.400)" fill="#6a6a6a" stroke="#ddd" stroke-width="1.100"/>
<ellipse class="o" cx="222.400" cy="291.400" rx="4.600" ry="6.600" transform="rotate(-25 222.400 291.400)" fill="#c6c6c6"/>
<ellipse class="o" cx="222.800" cy="291.200" rx="2.200" ry="3.400" transform="rotate(-25 222.800 291.200)" fill="#555"/>
<path d="M212 296L228.500 288.500" stroke="#18c018" stroke-width="1.400"/>
</g>
<!-- collets 29 -->
<g id="col">
<path class="o" fill="#8a8a8a" d="M199 297L207.500 294Q213 296 213.300 302L212.500 305.500L203.500 309.300Z"/>
<ellipse class="o" cx="201.800" cy="303.200" rx="5" ry="6.400" transform="rotate(-20 201.800 303.200)" fill="#9a9a9a"/>
<ellipse class="o" cx="202" cy="303.200" rx="3.300" ry="4.500" transform="rotate(-20 202 303.200)" fill="#c2c2c2"/>
</g>
<g transform="translate(16.500 25.500)">
<path class="o" fill="#8a8a8a" d="M199 297L207.500 294Q213 296 213.300 302L212.500 305.500L203.500 309.300Z"/>
<ellipse class="o" cx="201.800" cy="303.200" rx="5" ry="6.400" transform="rotate(-20 201.800 303.200)" fill="#9a9a9a"/>
<ellipse class="o" cx="202" cy="303.200" rx="3.300" ry="4.500" transform="rotate(-20 202 303.200)" fill="#c2c2c2"/>
</g>
<!-- plates 28 -->
<g id="plt">
<path class="o" fill="#4d4d4d" d="M163.200 308L174.200 314Q170 332 158.200 349.200L148.200 343.100Q158 326 163.200 308Z"/>
<path fill="#8a8a8a" stroke="#ccc" stroke-width=".8" d="M164.500 311.500L171.500 315.500Q167.500 331 157.500 345.500L151.500 342Q160 327 164.500 311.500Z"/>
<path d="M166.500 315L156 341" stroke="#444" stroke-width="1.400"/>
<circle cx="161.500" cy="329" r="1.300" fill="#ddd"/>
</g>
<g transform="translate(17 14)">
<path class="o" fill="#4d4d4d" d="M163.200 308L174.200 314Q170 332 158.200 349.200L148.200 343.100Q158 326 163.200 308Z"/>
<path fill="#8a8a8a" stroke="#ccc" stroke-width=".8" d="M164.500 311.500L171.500 315.500Q167.500 331 157.500 345.500L151.500 342Q160 327 164.500 311.500Z"/>
<path d="M166.500 315L156 341" stroke="#444" stroke-width="1.400"/>
<circle cx="161.500" cy="329" r="1.300" fill="#ddd"/>
</g>
<!-- nuts -->
<g id="nut2">
<path class="o" fill="#4e4e4e" stroke-width="1.300" d="M117 342.500L122 340.300L128 343L129 349.500L124.500 353.300L118 351.500L116 347Z"/>
<ellipse class="o" cx="122.800" cy="346.600" rx="3.800" ry="3.400" fill="#9a9a9a"/>
<ellipse cx="123" cy="346.600" rx="2.400" ry="2.200" fill="#333"/>
</g>
<g transform="translate(13.200 14.800)">
<path class="o" fill="#4e4e4e" stroke-width="1.300" d="M117 342.500L122 340.300L128 343L129 349.500L124.500 353.300L118 351.500L116 347Z"/>
<ellipse class="o" cx="122.800" cy="346.600" rx="3.800" ry="3.400" fill="#9a9a9a"/>
<ellipse cx="123" cy="346.600" rx="2.400" ry="2.200" fill="#333"/>
</g>
</g>
<!-- 33_valves -->
<g id="valves">
<!-- bolt -->
<path d="M372 197L402.500 184" stroke="#7a7a7a" stroke-width="5.800" stroke-linecap="round"/>
<path d="M382 192.500L402.500 184" stroke="#161616" stroke-width="6" stroke-linecap="round"/>
<path class="o" fill="#6a6a6a" d="M363 196L366.500 191.500L371.500 191.500L374 196.500L372.500 202L367 203.500Z"/>
<circle cx="368.500" cy="197.500" r="2.200" fill="#8a8a8a" stroke="#222" stroke-width=".6"/>
<!-- valve 33 -->
<path d="M307 245L350 222.500" stroke="#222" stroke-width="6.800"/>
<path d="M307 245L350 222.500" stroke="#7c7c7c" stroke-width="5.200"/>
<ellipse class="o" cx="351.800" cy="221.700" rx="9.500" ry="12.800" transform="rotate(-25 351.800 221.700)" fill="#8a8a8a"/>
<ellipse class="o" cx="350.300" cy="222.500" rx="8.200" ry="11.600" transform="rotate(-25 350.300 222.500)" fill="#969696"/>
<circle class="o" cx="347.500" cy="224" r="3.300" fill="#7c7c7c"/>
<path class="o" fill="#b8b8b8" d="M304.500 242L309 240.500L311 246L307 248.500L304 247Z"/>
<circle class="o" cx="306" cy="246" r="2.800" fill="#c4c4c4"/>
<path d="M304.500 246.500L307.500 245" stroke="#18c018" stroke-width="1.200"/>
<!-- valve 32 -->
<path d="M334 262L378.500 239" stroke="#222" stroke-width="6.800"/>
<path d="M334 262L378.500 239" stroke="#7c7c7c" stroke-width="5.200"/>
<ellipse class="o" cx="380.400" cy="238" rx="9.500" ry="12.800" transform="rotate(-25 380.400 238)" fill="#8a8a8a"/>
<ellipse class="o" cx="378.900" cy="238.800" rx="8.200" ry="11.600" transform="rotate(-25 378.900 238.800)" fill="#969696"/>
<circle class="o" cx="376" cy="240.300" r="3.300" fill="#7c7c7c"/>
<path class="o" fill="#b8b8b8" d="M332 259L336.500 257.500L338.500 263L334.500 265.500L331.500 264Z"/>
<circle class="o" cx="333.500" cy="263" r="2.800" fill="#c4c4c4"/>
<path d="M332 263.500L335 262" stroke="#18c018" stroke-width="1.200"/>
<!-- tappets 21 -->
<g id="tap">
<ellipse class="o" cx="383.400" cy="307.500" rx="10" ry="13.300" transform="rotate(-20 383.400 307.500)" fill="#7c7c7c"/>
<ellipse class="o" cx="382" cy="308" rx="8.300" ry="11.400" transform="rotate(-20 382 308)" fill="#c6c6c6"/>
<path class="o" fill="#7e7e7e" d="M352 317.500L377 305.500Q381.500 309 381 316L356.500 327.500Z"/>
<ellipse class="o" cx="354.300" cy="322.500" rx="2.600" ry="5" transform="rotate(-25 354.300 322.500)" fill="#666"/>
</g>
<g transform="translate(45 5)">
<ellipse class="o" cx="383.400" cy="307.500" rx="10" ry="13.300" transform="rotate(-20 383.400 307.500)" fill="#7c7c7c"/>
<ellipse class="o" cx="382" cy="308" rx="8.300" ry="11.400" transform="rotate(-20 382 308)" fill="#c6c6c6"/>
<path class="o" fill="#7e7e7e" d="M352 317.500L377 305.500Q381.500 309 381 316L356.500 327.500Z"/>
<ellipse class="o" cx="354.300" cy="322.500" rx="2.600" ry="5" transform="rotate(-25 354.300 322.500)" fill="#666"/>
</g>
<!-- pushrods 22 -->
<path d="M267 369.500L336.500 332.500" stroke="#222" stroke-width="5.600" stroke-linecap="round"/>
<path d="M267 369.500L336.500 332.500" stroke="#868686" stroke-width="3.800" stroke-linecap="round"/>
<circle class="o" cx="264" cy="371.300" r="3.400" fill="#8e8e8e"/>
<path d="M308 375L382.500 336.800" stroke="#222" stroke-width="5.600" stroke-linecap="round"/>
<path d="M308 375L382.500 336.800" stroke="#868686" stroke-width="3.800" stroke-linecap="round"/>
<circle class="o" cx="305.200" cy="376.300" r="3.400" fill="#8e8e8e"/>
<path d="M262.500 372L265 370.500M303.500 377L306 375.500" stroke="#18c018" stroke-width="1.200"/>
</g>
</g>
<!--LABELS-->
<g class="lb" id="labels">
<text transform="translate(214.1 44.7) scale(.92 1)">1</text>
<text transform="translate(412.1 92.7) scale(.92 1)">2</text>
<text transform="translate(497.1 84.7) scale(.92 1)">3</text>
<text transform="translate(559.1 68.7) scale(.92 1)">4</text>
<text transform="translate(639.1 87.7) scale(.92 1)">5</text>
<text transform="translate(787.1 176.7) scale(.92 1)">6</text>
<text transform="translate(894.1 172.7) scale(.92 1)">7</text>
<text transform="translate(822.1 271.7) scale(.92 1)">8</text>
<text transform="translate(989.1 444.7) scale(.92 1)">9</text>
<text transform="translate(960.8 420.7) scale(.92 1)">10</text>
<text transform="translate(873.1 358.7) scale(.92 1)">11</text>
<text transform="translate(810.1 413.7) scale(.92 1)">12</text>
<text transform="translate(812.1 362.7) scale(.92 1)">13</text>
<text transform="translate(650.6 380.7) scale(.92 1)">14</text>
<text transform="translate(597.5 351.7) scale(.92 1)">15</text>
<text transform="translate(553.1 339.7) scale(.92 1)">16</text>
<text transform="translate(515.6 336.7) scale(.92 1)">17</text>
<text transform="translate(603.7 489.7) scale(.92 1)">18</text>
<text transform="translate(494.1 576.7) scale(.92 1)">19</text>
<text transform="translate(430.1 420.7) scale(.92 1)">20</text>
<text transform="translate(431.1 364.7) scale(.92 1)">21</text>
<text transform="translate(324.3 423.5) scale(.92 1)">22</text>
<text transform="translate(295.1 465.7) scale(.92 1)">23</text>
<text transform="translate(222.1 492.7) scale(.92 1)">24</text>
<text transform="translate(178.1 518.7) scale(.92 1)">25</text>
<text transform="translate(144.1 554.7) scale(.92 1)">26</text>
<text transform="translate(93.1 572.7) scale(.92 1)">27</text>
<text transform="translate(115.1 292.7) scale(.92 1)">28</text>
<text transform="translate(153.1 277.7) scale(.92 1)">29</text>
<text transform="translate(195.1 260.7) scale(.92 1)">30</text>
<text transform="translate(243.1 242.7) scale(.92 1)">31</text>
<text transform="translate(321.1 304.7) scale(.92 1)">32</text>
<text transform="translate(283.1 223.7) scale(.92 1)">33</text>
</g>
</svg>
</body></html>
